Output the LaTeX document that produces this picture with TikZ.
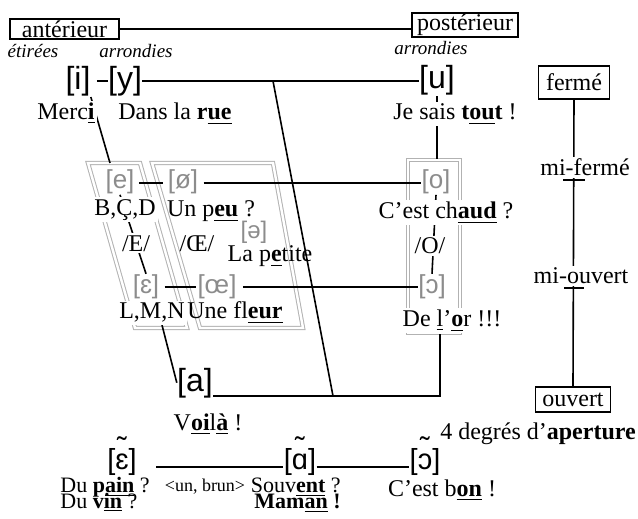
\documentclass[tikz,border=0pt]{standalone}
\usepackage{fontspec}
\setmainfont{Liberation Serif}
\newfontfamily\ipafont{Liberation Sans}
\usetikzlibrary{calc}
\pgfdeclarelayer{back}
\pgfsetlayers{back,main}
% nasal vowel: tilde set well above the letter
\newcommand\nasalv[1]{\ooalign{#1\cr\hidewidth\raisebox{0.4em}{\char"02DC}\hidewidth\cr}}
\newcommand\ub[1]{\underline{\textbf{#1}}}

\begin{document}
\begin{tikzpicture}[x=0.5pt,y=-0.5pt,
  every node/.style={inner sep=0pt, font=\fontsize{12}{14}\selectfont},
  txt/.style={anchor=base},
  wtxt/.style={anchor=base, fill=white, inner sep=1pt},
  small/.style={font=\fontsize{11}{13}\selectfont},
  lbox/.style={draw, line width=0.7pt, inner sep=0pt},
  note/.style={anchor=base, font=\itshape\fontsize{9.5}{11}\selectfont},
  ipa/.style={anchor=base, font=\ipafont\fontsize{16}{18}\selectfont},
  ipag/.style={anchor=base, text=black!45, font=\ipafont\fontsize{13}{15}\selectfont},
  ipan/.style={anchor=base, font=\ipafont\fontsize{14.5}{16}\selectfont},
  link/.style={line width=0.8pt},
  greyframe/.style={draw=black!30, line width=0.5pt, double=white, double distance=1.2pt},
]
\useasboundingbox (0,0) rectangle (638,519);

% axis labels
\node[lbox, minimum width=54.5pt, minimum height=10pt] (ant) at (64.5,29) {antérieur};
\node[lbox, minimum width=53pt, minimum height=12pt] (post) at (465,25) {postérieur};
\node[lbox, minimum width=35.5pt, minimum height=16.5pt] (ferme) at (574,82.5) {fermé};
\node[lbox, minimum width=37.5pt, minimum height=12.5pt] (ouvert) at (573,399.5) {ouvert};
\node[wtxt] (mif) at (585,176) {mi-fermé};
\node[wtxt] (miou) at (581,284) {mi-ouvert};
\node[txt] (aperture) at (538,439) {4 degrés d’\textbf{aperture}};

\node[note] (etir) at (33,58) {étirées};
\node[note] (arr1) at (136,58) {arrondies};
\node[note] (arr2) at (431,55) {arrondies};

% oral vowels
\node[ipa] (ipa-i) at (78,90) {[i]};
\node[ipa] (ipa-y) at (125,90) {[y]};
\node[ipa] (ipa-u) at (437,89) {[u]};
\node[ipag] (ipa-e) at (120,189) {[e]};
\node[ipag] (ipa-oe) at (183,189) {[ø]};
\node[ipag] (ipa-o) at (436,189) {[o]};
\node[ipag, font=\ipafont\fontsize{12}{14}\selectfont] (ipa-schwa) at (254,239) {[ə]};
\node[ipag] (ipa-eps) at (146,293) {[ɛ]};
\node[ipag] (ipa-oelig) at (217,293) {[œ]};
\node[ipag] (ipa-oo) at (432,293) {[ɔ]};
\node[ipa] (ipa-a) at (195,391) {[a]};

% nasal vowels
\node[ipan] (nas-e) at (122,469) {[\nasalv{ɛ}]};
\node[ipan] (nas-a) at (300,469) {[\nasalv{ɑ}]};
\node[ipan] (nas-o) at (425,469) {[\nasalv{ɔ}]};

% example words
\node[wtxt] (merci) at (66,120) {Merc\ub{i}};
\node[txt] (rue) at (175,120) {Dans la \textbf{r\underline{ue}}};
\node[wtxt] (tout) at (455,120) {Je sais \textbf{t\underline{ou}t} !};
\node[wtxt] (bcd) at (125,215) {B,Ç,D};
\node[txt] (peu) at (211,217) {Un p\ub{eu} ?};
\node[wtxt] (E) at (136,251) {/E/};
\node[txt] (OE) at (197,251) {/Œ/};
\node[txt] (petite) at (270,262) {La p\ub{e}tite};
\node[wtxt] (chaud) at (446,219) {C’est ch\ub{aud} ?};
\node[wtxt] (O) at (430,254) {/O/};
\node[wtxt] (lmn) at (152,319) {L,M,N};
\node[txt] (fleur) at (235,319) {Une fl\ub{eur}};
\node[wtxt] (deor) at (452,327) {De \underline{l}’\ub{o}r !!!};
\node[txt] (voila) at (208,430) {V\ub{oi}l\ub{à} !};
\node[txt, small, anchor=base west] (pain) at (60,492) {Du \textbf{p\underline{ain}} ?};
\node[txt, small, anchor=base west] (vin) at (60,508) {Du \textbf{v\underline{in}} ?};
\node[txt, font=\fontsize{9}{11}\selectfont] (unbrun) at (205,491) {<un, brun>};
\node[txt, small, anchor=base east] (souvent) at (341,492) {Souv\ub{ent} ?};
\node[txt, small, anchor=base east] (maman) at (341,508) {\textbf{Mam\underline{an} !}};
\node[txt] (bon) at (442,496) {C’est b\ub{on} !};

\coordinate (eframe) at (110,163);
\coordinate (diagx) at (273,0);
\coordinate (corner) at (440,396);
\coordinate (diagbot) at (333,396);
\coordinate (lmnfoot) at ([xshift=5pt]lmn.south);
\coordinate (mifk) at (ferme.south |- mif.base);
\coordinate (miok) at (ferme.south |- miou.base);
\coordinate (topline) at ([yshift=4.5pt]ipa-y.base east);

\begin{pgfonlayer}{back}
  % vowel groups
  \draw[greyframe] (88,163) -- (140,163) -- (187,328) -- (135,328) -- cycle;
  \draw[greyframe] (152,163) -- (273,163) -- (303,328) -- (200,328) -- cycle;
  \node[greyframe, minimum width=26pt, minimum height=86.5pt] (obox) at (434,246.5) {};

  % trapezoid of the oral vowels
  \draw[link] (ant.east) -- (ant.east -| post.west);
  \draw[link, shorten <=3pt] ([yshift=4.5pt]ipa-i.base east) -- ([yshift=4.5pt]ipa-y.base west);
  \draw[link] (topline) -- (topline -| ipa-u.west);
  \draw[link] (topline -| diagx) -- (diagbot);
  \draw[link] (corner -| ipa-a.east) -- (corner) -- (corner |- deor.south);
  \draw[link] (ipa-i.south east) -- (eframe);
  \draw[link] (ipa-e.south) -- (ipa-eps.north);
  \draw[link, shorten <=2pt, shorten >=2pt] ([yshift=3pt]ipa-e.base east) -- ([yshift=3pt]ipa-oe.base west);
  \draw[link, shorten <=2.5pt] ([yshift=3pt]ipa-oe.base east) -- ([yshift=3pt]ipa-o.base west);
  \draw[link, shorten <=2.5pt, shorten >=0.5pt] ([yshift=3pt]ipa-eps.base east) -- ([yshift=3pt]ipa-oelig.base west);
  \draw[link, shorten <=3pt] ([yshift=3pt]ipa-oelig.base east) -- ([yshift=3pt]ipa-oo.base west);
  \draw[link] (ipa-u.south) -- (ipa-u.south |- obox.north);
  \draw[link] (ipa-o.south) -- (ipa-oo.north);
  \draw[link] (lmnfoot) -- (ipa-a.west);

  % aperture scale
  \draw[link] (ferme.south) -- (ouvert.north);

  % nasal vowels
  \draw[link, shorten <=9.5pt] ([yshift=1pt]nas-e.base east) -- ([yshift=1pt]nas-a.base west);
  \draw[link] ([yshift=1pt]nas-a.base east) -- ([yshift=1pt]nas-o.base west);
\end{pgfonlayer}

\draw[link] ([xshift=-5.5pt,yshift=-2pt]mifk) -- ([xshift=5.5pt,yshift=-2pt]mifk);
\draw[link] ([xshift=-5pt,yshift=-2pt]miok) -- ([xshift=5pt,yshift=-2pt]miok);
\end{tikzpicture}
\end{document}
